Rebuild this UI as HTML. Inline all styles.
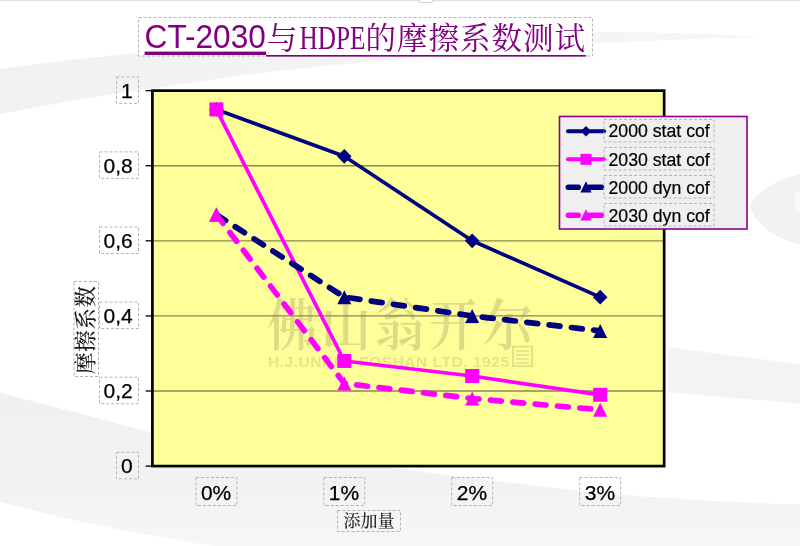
<!DOCTYPE html>
<html lang="zh-CN">
<head>
<meta charset="utf-8">
<title>CT-2030与HDPE的摩擦系数测试</title>
<style>
html,body{margin:0;padding:0;background:#fff;}
body{width:800px;height:546px;overflow:hidden;position:relative;}
svg{display:block;position:absolute;left:0;top:0;}
.ar{font-family:"Liberation Sans",sans-serif;}
.song{font-family:"Liberation Serif","Noto Serif CJK SC",serif;}
.dash{fill:none;stroke:#b0b4c2;stroke-width:1;stroke-dasharray:3 2;}
</style>
</head>
<body>
<svg width="800" height="546" viewBox="0 0 800 546">

<rect x="0" y="0" width="800" height="546" fill="#ffffff"/>
<rect x="0" y="0" width="800" height="1.2" fill="#eadde3"/><rect x="419" y="-2" width="14" height="4.5" rx="1.5" fill="#fff" stroke="#d0d0d0" stroke-width="1"/>
<defs><linearGradient id="gB" x1="0" y1="0" x2="0" y2="1"><stop offset="0" stop-color="#f0f0f0"/><stop offset="0.6" stop-color="#f2f2f2"/><stop offset="1" stop-color="#f7f7f7"/></linearGradient><linearGradient id="gA" x1="0" y1="0" x2="1" y2="0"><stop offset="0" stop-color="#f1f1f1"/><stop offset="0.5" stop-color="#f4f4f4"/><stop offset="1" stop-color="#f6f6f6"/></linearGradient></defs>
<g id="bg">
<path fill="url(#gA)" d="M0,69 C50,62 95,57 138,53 C290,40 450,33 593,32 C660,32 720,34 762,37 C720,38 660,40 593,44 C450,54 300,66 200,81.5 C170,86 140,90 115,94 C75,100 35,107 0,114 Z"/>
<path fill="url(#gB)" d="M0,392.8 C50,405.5 100,419 152,432.8 L152,468 L394,468 C470,478 550,488 625,495 C690,500 750,503 800,504.5 L800,546 L212,546 L200,544 C180,540.5 160,537 140,533.5 C120,529.5 100,525.5 80,521.5 C53,515.5 26,509 0,502 Z"/>
<path fill="#f3f3f3" d="M668.5,347.4 C710,352.5 760,359 800,364 L800,403.8 C760,400 710,396 668.5,392.3 Z"/>
<path fill="#f2f2f2" d="M749.7,207 C753,197 768,182 800,174 L800,244.5 C772,238 755,222 749.7,207 Z"/>
<ellipse cx="801" cy="201.5" rx="7" ry="12" fill="#f9f9f9"/>
</g>
<rect x="152.4" y="90.65" width="511.75" height="375.45000000000005" fill="#ffff99"/>
<g id="wm" fill="#7a7050" fill-opacity="0.25">
<text class="song" transform="translate(267,345) scale(1,1.12)" font-size="50" font-weight="600" textLength="266" lengthAdjust="spacing">佛山翁开尔</text>
<text class="ar" x="268" y="367" font-size="15.5" font-weight="700" fill-opacity="0.19" textLength="241" lengthAdjust="spacing">H.J.UNKEL FOSHAN LTD. 1925</text>
<rect x="513" y="346.6" width="19" height="19.5" fill="none" stroke="#7a7050" stroke-opacity="0.22" stroke-width="2"/>
<path d="M516,351h13M516,355h13M516,359h13M516,363h13" fill="none" stroke="#7a7050" stroke-opacity="0.22" stroke-width="1.6"/>
</g>
<g stroke="#8d8850" stroke-width="1.4">
<line x1="152.4" x2="664.15" y1="391.01" y2="391.01"/>
<line x1="152.4" x2="664.15" y1="315.92" y2="315.92"/>
<line x1="152.4" x2="664.15" y1="240.83" y2="240.83"/>
<line x1="152.4" x2="664.15" y1="165.74" y2="165.74"/>
</g>
<g stroke="#000" stroke-width="1.3">
<line x1="145.6" x2="152.4" y1="466.1" y2="466.1"/>
<line x1="145.6" x2="152.4" y1="391.01" y2="391.01"/>
<line x1="145.6" x2="152.4" y1="315.92" y2="315.92"/>
<line x1="145.6" x2="152.4" y1="240.83" y2="240.83"/>
<line x1="145.6" x2="152.4" y1="165.74" y2="165.74"/>
<line x1="145.6" x2="152.4" y1="90.65" y2="90.65"/>
</g>
<polyline points="216.4,109.4 344.3,156.3 472.2,240.8 600.2,297.1" fill="none" stroke="#000080" stroke-width="3.7" stroke-linejoin="round"/>
<g fill="#000080"><path d="M216.4,102.12L223.70000000000002,109.42L216.4,116.72L209.1,109.42Z"/><path d="M344.3,149.04999999999998L351.6,156.35L344.3,163.65L337.0,156.35Z"/><path d="M472.2,233.53L479.5,240.83L472.2,248.13000000000002L464.9,240.83Z"/><path d="M600.2,289.84999999999997L607.5,297.15L600.2,304.45L592.9000000000001,297.15Z"/></g>
<polyline points="216.4,109.4 344.3,361.0 472.2,376.0 600.2,394.8" fill="none" stroke="#ff00ff" stroke-width="3.7" stroke-linejoin="round"/>
<g fill="#ff00ff"><rect x="209.4" y="102.42" width="14" height="14"/><rect x="337.3" y="353.97" width="14" height="14"/><rect x="465.2" y="368.99" width="14" height="14"/><rect x="593.2" y="387.76" width="14" height="14"/></g>
<polyline points="216.4,214.6 344.3,297.1 472.2,315.9 600.2,330.9" fill="none" stroke="#000080" stroke-width="5.7" stroke-dasharray="11 11.43" stroke-linecap="round" stroke-linejoin="round"/>
<g fill="#000080"><path d="M216.4,207.55L223.4,221.55L209.4,221.55Z"/><path d="M344.3,290.15L351.3,304.15L337.3,304.15Z"/><path d="M472.2,308.92L479.2,322.92L465.2,322.92Z"/><path d="M600.2,323.94L607.2,337.94L593.2,337.94Z"/></g>
<polyline points="216.4,214.6 344.3,383.5 472.2,398.5 600.2,409.8" fill="none" stroke="#ff00ff" stroke-width="5.7" stroke-dasharray="11 11.43" stroke-linecap="round" stroke-linejoin="round"/>
<g fill="#ff00ff"><path d="M216.4,207.55L223.4,221.55L209.4,221.55Z"/><path d="M344.3,376.5L351.3,390.5L337.3,390.5Z"/><path d="M472.2,391.52L479.2,405.52L465.2,405.52Z"/><path d="M600.2,402.78L607.2,416.78L593.2,416.78Z"/></g>
<rect x="152.4" y="90.65" width="511.75" height="375.45" fill="none" stroke="#000" stroke-width="2.7"/>
<g class="ar" font-size="21" fill="#000" stroke="#000" stroke-width="0.25" text-anchor="end">
<text x="132.8" y="97.7">1</text>
<text x="132.8" y="172.7">0,8</text>
<text x="132.8" y="247.8">0,6</text>
<text x="132.8" y="322.9">0,4</text>
<text x="132.8" y="398.0">0,2</text>
<text x="132.8" y="473.1">0</text>
</g>
<rect class="dash" x="116.5" y="76.9" width="22" height="26.5"/>
<rect class="dash" x="99.5" y="151.9" width="39" height="26.5"/>
<rect class="dash" x="99.5" y="227.0" width="39" height="26.5"/>
<rect class="dash" x="99.5" y="302.1" width="39" height="26.5"/>
<rect class="dash" x="99.5" y="377.2" width="39" height="26.5"/>
<rect class="dash" x="116.5" y="452.3" width="22" height="26.5"/>
<g class="ar" font-size="21" fill="#000" stroke="#000" stroke-width="0.25" text-anchor="middle">
<text x="216.1" y="499.6">0%</text>
<rect class="dash" x="195.9" y="477.5" width="41" height="28"/>
<text x="344.0" y="499.6">1%</text>
<rect class="dash" x="323.8" y="477.5" width="41" height="28"/>
<text x="471.9" y="499.6">2%</text>
<rect class="dash" x="451.7" y="477.5" width="41" height="28"/>
<text x="599.9" y="499.6">3%</text>
<rect class="dash" x="579.7" y="477.5" width="41" height="28"/>
</g>
<text class="song" x="369" y="527" font-size="17" font-weight="500" fill="#222" text-anchor="middle">添加量</text>
<rect class="dash" x="337.5" y="510.5" width="63" height="21"/>
<text class="song" transform="translate(93.3,374) rotate(-90)" font-size="21.6" font-weight="500" fill="#1a1a1a" textLength="88" lengthAdjust="spacing">摩擦系数</text>
<rect class="dash" x="74" y="281.5" width="24.5" height="95"/>
<rect x="138.5" y="17.5" width="454" height="38.5" fill="#ffffff"/>
<rect class="dash" x="138.5" y="17.5" width="454" height="38.5"/>
<g fill="#800080">
<text class="ar" x="144.6" y="48.3" font-size="33" textLength="121.3" lengthAdjust="spacingAndGlyphs">CT-2030</text>
<text class="song" x="266.5" y="48.6" font-size="31">与</text>
<text class="song" x="299.5" y="48.6" font-size="34" textLength="66" lengthAdjust="spacingAndGlyphs">HDPE</text>
<text class="song" x="365.5" y="48.6" font-size="30.5" textLength="219.5" lengthAdjust="spacing">的摩擦系数测试</text>
<rect x="144.6" y="51.6" width="121.6" height="3.4"/>
<rect x="266" y="55" width="320" height="1.6"/>
</g>
<rect x="559.5" y="116.5" width="187.5" height="112.5" fill="#efefef" stroke="#8b008b" stroke-width="1.6"/>
<line x1="568" x2="604" y1="131.2" y2="131.2" stroke="#000080" stroke-width="4" stroke-linecap="round"/>
<g fill="#000080"><path d="M586,125.99999999999999L591.2,131.2L586,136.39999999999998L580.8,131.2Z"/></g>
<text class="ar" x="608.5" y="137.39999999999998" font-size="17.7" fill="#000" stroke="#000" stroke-width="0.2">2000 stat cof</text>
<rect class="dash" x="604" y="119.39999999999999" width="110" height="22.5"/>
<line x1="568" x2="604" y1="159.3" y2="159.3" stroke="#ff00ff" stroke-width="4" stroke-linecap="round"/>
<g fill="#ff00ff"><rect x="580.5" y="153.8" width="11.0" height="11.0"/></g>
<text class="ar" x="608.5" y="165.5" font-size="17.7" fill="#000" stroke="#000" stroke-width="0.2">2030 stat cof</text>
<rect class="dash" x="604" y="147.5" width="110" height="22.5"/>
<line x1="568.4" x2="578.2" y1="187.3" y2="187.3" stroke="#000080" stroke-width="5.6" stroke-linecap="round"/>
<line x1="589.5" x2="601.4" y1="187.3" y2="187.3" stroke="#000080" stroke-width="5.6" stroke-linecap="round"/>
<g fill="#000080"><path d="M586,181.20000000000002L591.6,192.4L580.4,192.4Z"/></g>
<text class="ar" x="608.5" y="193.5" font-size="17.7" fill="#000" stroke="#000" stroke-width="0.2">2000 dyn cof</text>
<rect class="dash" x="604" y="175.5" width="110" height="22.5"/>
<line x1="568.4" x2="578.2" y1="215.3" y2="215.3" stroke="#ff00ff" stroke-width="5.6" stroke-linecap="round"/>
<line x1="589.5" x2="601.4" y1="215.3" y2="215.3" stroke="#ff00ff" stroke-width="5.6" stroke-linecap="round"/>
<g fill="#ff00ff"><path d="M586,209.20000000000002L591.6,220.4L580.4,220.4Z"/></g>
<text class="ar" x="608.5" y="221.5" font-size="17.7" fill="#000" stroke="#000" stroke-width="0.2">2030 dyn cof</text>
<rect class="dash" x="604" y="203.5" width="110" height="22.5"/>
</svg>
</body>
</html>
